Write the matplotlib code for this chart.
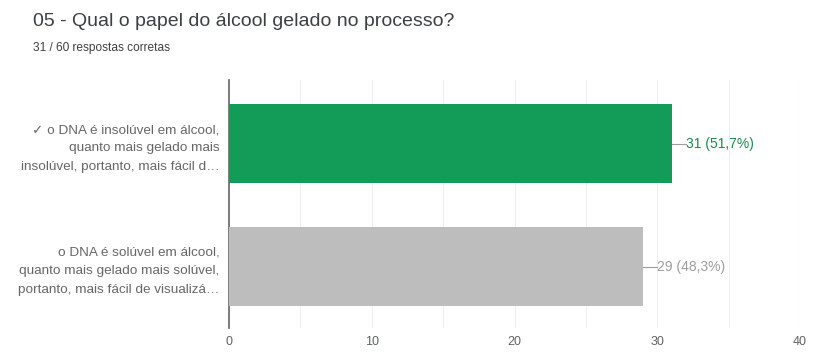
import matplotlib.pyplot as plt

# Dados da pergunta 05
categorias = [
    "\u2713 o DNA é insolúvel em álcool,\nquanto mais gelado mais\ninsolúvel, portanto, mais fácil d…",
    "o DNA é solúvel em álcool,\nquanto mais gelado mais solúvel,\nportanto, mais fácil de visualizá…",
]
valores = [31, 29]
rotulos = ["31 (51,7%)", "29 (48,3%)"]
cores = ["#129c57", "#bdbdbd"]
cores_texto = ["#1e8a4f", "#9e9e9e"]
ticks_x = [0, 10, 20, 30, 40]

plt.rcParams['font.family'] = ['Liberation Sans', 'DejaVu Sans']

fig = plt.figure(figsize=(8.13, 3.52), dpi=100)
ax = fig.add_axes([0.2817, 0.068, 0.7023, 0.705])

y = list(range(len(valores)))
ax.barh(y, valores, height=0.64, color=cores, zorder=3)

ax.set_xlim(0, 40)
ax.set_ylim(1.5, -0.52)
ax.set_xticks(ticks_x)
ax.set_xticks(range(0, 41, 5), minor=True)
ax.grid(axis='x', which='both', color='#efefef', linewidth=0.8, zorder=0)
ax.tick_params(axis='x', which='both', length=0, labelsize=9, labelcolor='#5f6368', pad=6)
ax.tick_params(axis='y', length=0, labelsize=9.7, labelcolor='#666666', pad=7)
ax.set_yticks(y)
ax.set_yticklabels(categorias, linespacing=1.7)
for s in ['top', 'right', 'bottom']:
    ax.spines[s].set_visible(False)
ax.spines['left'].set_color('#666666')
ax.spines['left'].set_linewidth(1.2)

for i, (v, r) in enumerate(zip(valores, rotulos)):
    ax.plot([v, v + 1.0], [i, i], color='#9e9e9e', linewidth=0.8, zorder=4)
    ax.text(v + 1.0, i, r, va='center', ha='left', fontsize=10, color=cores_texto[i])

fig.text(0.041, 0.94, "05 - Qual o papel do álcool gelado no processo?",
         fontsize=14, color='#3c4043', va='center')
fig.text(0.041, 0.865, "31 / 60 respostas corretas",
         fontsize=8.6, color='#3c4043', va='center')

plt.savefig("out.png", dpi=100)
